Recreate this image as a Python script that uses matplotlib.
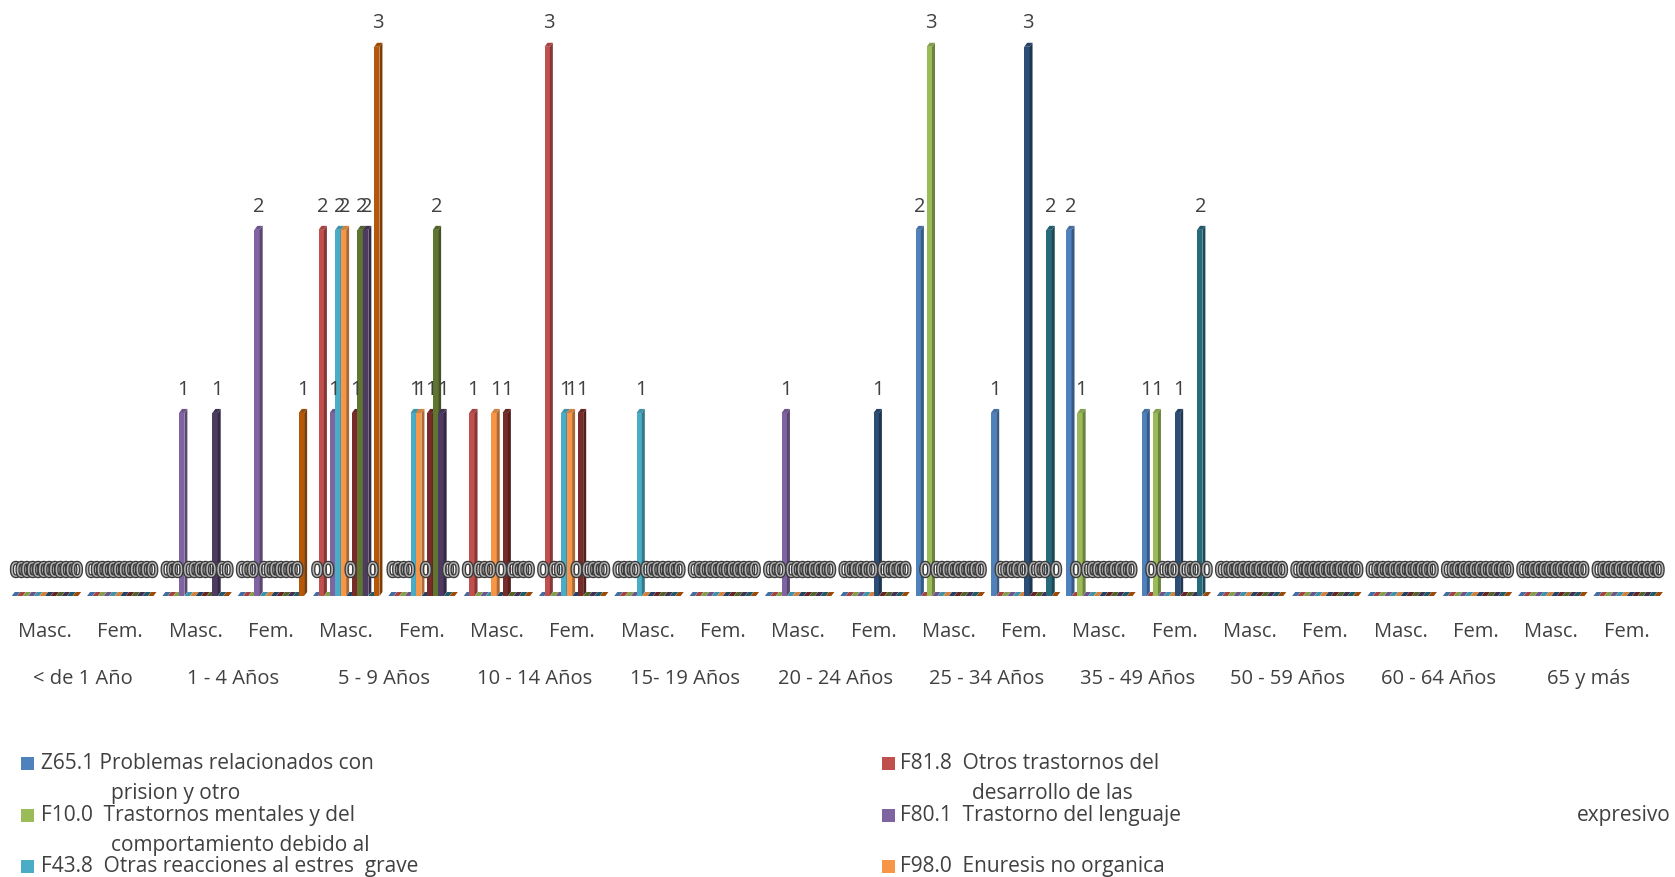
import numpy as np
import matplotlib.pyplot as plt
import matplotlib.patheffects as pe
from matplotlib.patches import Polygon, Rectangle

# categories: sex within each age group
sexes = ['Masc.', 'Fem.'] * 11
age_groups = ['< de 1 Año', '1 - 4 Años', '5 - 9 Años', '10 - 14 Años', '15- 19 Años',
              '20 - 24 Años', '25 - 34 Años', '35 - 49 Años', '50 - 59 Años',
              '60 - 64 Años', '65 y más']

# cases per category (22 categories, Masc./Fem. pairs)
z651 = [0, 0, 0, 0, 0, 0, 0, 0, 0, 0, 0, 0, 2, 1, 2, 1, 0, 0, 0, 0, 0, 0]
f818 = [0, 0, 0, 0, 2, 0, 1, 3, 0, 0, 0, 0, 0, 0, 0, 0, 0, 0, 0, 0, 0, 0]
f100 = [0, 0, 0, 0, 0, 0, 0, 0, 0, 0, 0, 0, 3, 0, 1, 1, 0, 0, 0, 0, 0, 0]
f801 = [0, 0, 1, 2, 1, 0, 0, 0, 0, 0, 1, 0, 0, 0, 0, 0, 0, 0, 0, 0, 0, 0]
f438 = [0, 0, 0, 0, 2, 1, 0, 1, 1, 0, 0, 0, 0, 0, 0, 0, 0, 0, 0, 0, 0, 0]
f980 = [0, 0, 0, 0, 2, 1, 1, 1, 0, 0, 0, 0, 0, 0, 0, 0, 0, 0, 0, 0, 0, 0]
s07 = [0, 0, 0, 0, 0, 0, 0, 0, 0, 0, 0, 1, 0, 3, 0, 1, 0, 0, 0, 0, 0, 0]
s08 = [0, 0, 0, 0, 1, 1, 1, 1, 0, 0, 0, 0, 0, 0, 0, 0, 0, 0, 0, 0, 0, 0]
s09 = [0, 0, 0, 0, 2, 2, 0, 0, 0, 0, 0, 0, 0, 0, 0, 0, 0, 0, 0, 0, 0, 0]
s10 = [0, 0, 1, 0, 2, 1, 0, 0, 0, 0, 0, 0, 0, 0, 0, 0, 0, 0, 0, 0, 0, 0]
s11 = [0, 0, 0, 0, 0, 0, 0, 0, 0, 0, 0, 0, 0, 2, 0, 2, 0, 0, 0, 0, 0, 0]
s12 = [0, 0, 0, 1, 3, 0, 0, 0, 0, 0, 0, 0, 0, 0, 0, 0, 0, 0, 0, 0, 0, 0]
series = [z651, f818, f100, f801, f438, f980, s07, s08, s09, s10, s11, s12]

legend_names = [
    ('Z65.1 Problemas relacionados con', 'prision y otro'),
    ('F81.8  Otros trastornos del', 'desarrollo de las'),
    ('F10.0  Trastornos mentales y del', 'comportamiento debido al'),
    ('F80.1  Trastorno del lenguaje', 'expresivo'),
    ('F43.8  Otras reacciones al estres  grave', ''),
    ('F98.0  Enuresis no organica', ''),
]

colors = ['#4F81BD', '#C0504D', '#9BBB59', '#8064A2', '#4BACC6', '#F79646',
          '#2C4D75', '#772C2A', '#5F7530', '#4D3B62', '#276A7C', '#B65708']


def shade(c, f):
    r, g, b = [int(c[i:i + 2], 16) / 255 for i in (1, 3, 5)]
    return (r * f, g * f, b * f)


W, H = 1675, 878
fig = plt.figure(figsize=(W / 100, H / 100), dpi=100)
ax = fig.add_axes([7.3 / W, 1 - 597 / H, 1657 / W, 595 / H])
ax.set_xlim(-0.5, 21.5)
ax.set_ylim(0, 3.25)

text_col = '#404040'
font = ['Open Sans', 'DejaVu Sans']

n = len(series)
group_w = 0.885
bw = group_w / n
x = np.arange(len(sexes))
dx = 3.0 / 75.3
dy = 4.0 / 183.0

for j, vals in enumerate(series):
    xs = x - group_w / 2 + bw * (j + 0.5)
    bars = ax.bar(xs, vals, width=bw * 0.96, color=colors[j], linewidth=0,
                  zorder=3 * j + 1)
    for rect, v in zip(bars, vals):
        x0 = rect.get_x()
        w = rect.get_width()
        h = rect.get_height()
        side = Polygon([(x0 + w, 0), (x0 + w + dx, dy), (x0 + w + dx, h + dy), (x0 + w, h)],
                       closed=True, facecolor=shade(colors[j], 0.7), linewidth=0,
                       zorder=3 * j + 2)
        top = Polygon([(x0, h), (x0 + dx, h + dy), (x0 + w + dx, h + dy), (x0 + w, h)],
                      closed=True, facecolor=shade(colors[j], 0.85), linewidth=0,
                      zorder=3 * j + 3)
        ax.add_patch(side)
        ax.add_patch(top)
        lab = ax.annotate(str(v), (x0 + (w + dx) / 2, h), xytext=(0, 17.5),
                          textcoords='offset points', ha='center', va='center',
                          fontsize=14.5, family=font, zorder=100)
        if v == 0:
            # zero labels drawn as outlined digits
            lab.set_color('#b4b4b4')
            lab.set_path_effects([pe.withStroke(linewidth=1.9, foreground='#3a3a3a')])
        else:
            lab.set_color(text_col)

for s in ax.spines.values():
    s.set_visible(False)
ax.set_yticks([])
ax.set_xticks(x, sexes)
ax.tick_params(axis='x', length=0, pad=18, labelsize=14.5, labelcolor=text_col)
for t in ax.get_xticklabels():
    t.set_family(font)

sec = ax.secondary_xaxis('bottom')
sec.set_xticks(np.arange(len(age_groups)) * 2 + 0.5, age_groups)
sec.tick_params(length=0, pad=52, labelsize=14.5, labelcolor=text_col)
for t in sec.get_xticklabels():
    t.set_family(font)
sec.spines['bottom'].set_visible(False)

# legend laid out in two columns under the chart
leg_font = dict(fontsize=15, color=text_col, family=font, va='center')
cols = [(21, 41, 111), (882, 900, 972)]
rows = [764, 816, 867]
for k, (first, second) in enumerate(legend_names):
    c = k % 2
    r = k // 2
    sx, tx, ix = cols[c]
    y = rows[r]
    fig.patches.append(Rectangle((sx / W, 1 - (y + 6.5) / H), 13 / W, 13 / H,
                                 transform=fig.transFigure, facecolor=colors[k],
                                 linewidth=0))
    fig.text(tx / W, 1 - y / H, first, ha='left', **leg_font)
    if second:
        if k == 3:
            fig.text(1671 / W, 1 - y / H, second, ha='right', **leg_font)
        else:
            fig.text(ix / W, 1 - (y + 30) / H, second, ha='left', **leg_font)

fig.savefig('out.png', dpi=100)
